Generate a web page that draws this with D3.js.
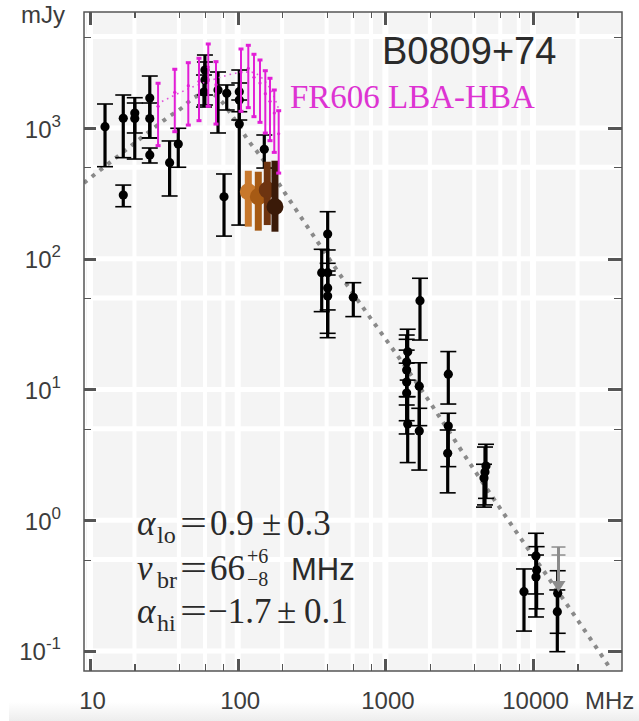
<!DOCTYPE html>
<html>
<head>
<meta charset="utf-8">
<script src="https://cdn.jsdelivr.net/npm/d3@7"></script>
<style>
  body { margin: 0; background: #fff; }
  svg { display: block; }
  .tick line { shape-rendering: crispEdges; }
</style>
</head>
<body>
<div id="chart"></div>
<script>
// visible axis ranges (MHz, mJy)
var freqDomain = [9.108, 40000];
var fluxDomain = [0.0703, 7713];

var xMajorTicks = [10, 100, 1000, 10000];
var xMinorTicks = [20, 40, 60, 80, 200, 400, 600, 800, 2000, 4000, 6000, 8000, 20000];
var yMajorTicks = [0.1, 1, 10, 100, 1000];
var yMinorTicks = [0.5, 5, 50, 500, 5000];
var xTickLabels = ["10", "100", "1000", "10000"];
var yTickExponents = ["-1", "0", "1", "2", "3"];

// literature flux densities: frequency, flux, lower / upper end of the error bar
var litFreq = [12.64, 16.8, 16.8, 20.1, 20.1, 25.4, 25.4, 25.4, 34.6, 39.6,
               60.0, 60.0, 59.1, 73.6, 80.8, 84.3, 102.5, 102.5, 102.5, 151.4,
               370.5, 406.7, 406.7, 406.7, 406.7, 606.4, 1416, 1394, 1394, 1394,
               1394, 1416, 1696, 1696, 1715, 2667, 2667, 2642, 4652, 4725,
               4799, 8678, 10460, 10460, 10570, 14590, 14680];
var litFlux = [1023, 1186, 307, 1302, 1182, 1696, 1182, 622, 543, 754,
               2777, 2328, 1885, 1953, 298, 1842, 1895, 1637, 1073, 687,
               78.2, 154.6, 78.2, 59.8, 51.9, 50.7, 19.4, 16.2, 14.1, 11.4,
               9.40, 5.45, 10.6, 4.82, 47.8, 13.1, 5.26, 3.25, 2.10, 2.34,
               2.60, 0.284, 0.533, 0.368, 0.416, 0.200, 0.276];
var litLo = [506, 593, 250, 579, 916, 839, 839, 540, 302, 501,
             1788, 1499, 1447, 916, 149, 1373, 1332, 1151, 181, 494,
             39.4, 80.6, 40.6, 26.9, 24.9, 36.1, 11.8, 8.81, 7.61, 5.77,
             4.57, 2.76, 5.29, 2.42, 23.9, 7.74, 2.57, 1.62, 1.26, 1.31,
             1.47, 0.142, 0.273, 0.182, 0.210, 0.0988, 0.1366];
var litHi = [1526, 1788, 366, 1705, 1553, 2498, 1553, 703, 796, 995,
             3616, 3198, 2543, 2681, 445, 2133, 2777, 2209, 1637, 884,
             118.1, 229, 116.7, 92.3, 75.1, 65.6, 28.9, 26.1, 24.2, 20.0,
             15.9, 8.81, 16.0, 7.18, 70.9, 19.5, 6.58, 4.90, 2.68, 3.63,
             3.81, 0.424, 0.795, 0.542, 0.628, 0.293, 0.411];

// upper limit near 15 GHz (grey)
var limitFreq = [14860];
var limitTop = [0.624];
var limitCap = [0.542];
var limitValue = [0.283];

// FR606 LBA-HBA measurements (magenta) and the curve through them
var lbaFreq = [28.9, 37.5, 46.3, 54.7, 63.2, 71.3, 105.3, 118, 128.9, 141.6, 153.8, 165.5, 176.9, 189.5];
var lbaFlux = [1466, 1875, 2106, 2276, 2928, 2144, 2681, 2861, 2442, 2209, 1829, 1600, 1302, 904];
var lbaErr = [733, 938, 1053, 1138, 1464, 1072, 1340, 1430, 1221, 1104, 914, 800, 651, 452];
var lbaCurveFreq = [28.4, 37.6, 51.4, 70.2, 98.9, 121, 146, 170.7, 190.4];
var lbaCurveFlux = [1526, 1788, 2095, 2370, 2634, 2681, 2412, 1885, 1373];

// LOFAR points (orange shades)
var lofarFreq = [118, 137.9, 158.6, 178.8];
var lofarFlux = [326, 298, 336, 250];
var lofarLo = [176, 164, 181, 161];
var lofarHi = [471, 463, 552, 562];
var lofarColors = ["#c8782c", "#a65a14", "#6e3410", "#3a1a08"];

// broken power-law fit (grey dotted)
var fitFreq = [9.1, 15.2, 25.5, 33.2, 42.6, 49.0, 55.6, 65.9, 78.3, 92.9, 117.4, 146, 209,
               516, 1913, 3917, 7542, 13020, 28380, 33160];
var fitFlux = [380, 600, 949, 1193, 1447, 1667, 1788, 1820, 1581, 1214, 809, 590, 318,
               70, 8.61, 2.51, 0.842, 0.349, 0.0965, 0.0741];

var margin = {top: 12, right: 17, bottom: 50, left: 84};
var width = 639 - margin.left - margin.right,
    height = 721 - margin.top - margin.bottom;

var sans = "'Liberation Sans', Arial, sans-serif";
var serif = "'Liberation Serif', 'Times New Roman', serif";

var svg = d3.select("#chart").append("svg")
    .attr("width", 639)
    .attr("height", 721);

var defs = svg.append("defs");
var shade = defs.append("linearGradient").attr("id", "shade")
    .attr("x1", 0).attr("y1", 0).attr("x2", 0).attr("y2", 1);
shade.append("stop").attr("offset", "0%").attr("stop-color", "#fff");
shade.append("stop").attr("offset", "100%").attr("stop-color", "#ededed");
defs.append("clipPath").attr("id", "plot-clip")
    .append("rect").attr("width", width).attr("height", height);

// faint shadow under the x labels
svg.append("rect")
    .attr("x", 9).attr("y", 702).attr("width", 630).attr("height", 19)
    .attr("fill", "url(#shade)");

var g = svg.append("g")
    .attr("transform", "translate(" + margin.left + "," + margin.top + ")");

var x = d3.scaleLog().domain(freqDomain).range([0, width]);
var y = d3.scaleLog().domain(fluxDomain).range([height, 0]);

// panel with white grid
g.append("rect")
    .attr("x", 2).attr("width", width - 2).attr("height", height)
    .attr("fill", "#f4f4f4");

g.selectAll(".vgrid")
    .data(xMajorTicks.concat(xMinorTicks))
    .enter().append("line")
    .attr("class", "vgrid")
    .attr("x1", x).attr("x2", x)
    .attr("y1", 0).attr("y2", height)
    .attr("stroke", "#fff")
    .attr("stroke-width", function(d) { return xMajorTicks.indexOf(d) >= 0 ? 6 : 4; });

g.selectAll(".hgrid")
    .data(yMajorTicks.concat(yMinorTicks))
    .enter().append("line")
    .attr("class", "hgrid")
    .attr("y1", y).attr("y2", y)
    .attr("x1", 2).attr("x2", width)
    .attr("stroke", "#fff")
    .attr("stroke-width", 5);

var plot = g.append("g").attr("clip-path", "url(#plot-clip)");

// fit curve
var line = d3.line()
    .x(function(d) { return x(d[0]); })
    .y(function(d) { return y(d[1]); })
    .curve(d3.curveMonotoneX);

plot.append("path")
    .datum(d3.zip(fitFreq, fitFlux))
    .attr("d", line)
    .attr("fill", "none")
    .attr("stroke", "#8a8a8a")
    .attr("stroke-width", 4)
    .attr("stroke-dasharray", "4,6");

// literature points
var lit = d3.range(litFreq.length).map(function(i) {
    return {f: litFreq[i], s: litFlux[i], lo: litLo[i], hi: litHi[i]};
});

var pts = plot.selectAll(".lit")
    .data(lit)
    .enter().append("g")
    .attr("class", "lit");

pts.append("line")
    .attr("x1", function(d) { return x(d.f); })
    .attr("x2", function(d) { return x(d.f); })
    .attr("y1", function(d) { return y(d.lo); })
    .attr("y2", function(d) { return y(d.hi); })
    .attr("stroke", "#000")
    .attr("stroke-width", 3.2);

["lo", "hi"].forEach(function(k) {
    pts.append("line")
        .attr("x1", function(d) { return x(d.f) - 8; })
        .attr("x2", function(d) { return x(d.f) + 8; })
        .attr("y1", function(d) { return y(d[k]); })
        .attr("y2", function(d) { return y(d[k]); })
        .attr("stroke", "#000")
        .attr("stroke-width", 1.6);
});

pts.append("circle")
    .attr("cx", function(d) { return x(d.f); })
    .attr("cy", function(d) { return y(d.s); })
    .attr("r", 4.6)
    .attr("fill", "#000");

// grey upper limit
var lim = plot.selectAll(".limit")
    .data(d3.range(limitFreq.length))
    .enter().append("g")
    .attr("class", "limit")
    .attr("fill", "#8c8c8c")
    .attr("stroke", "#8c8c8c");

lim.append("line")
    .attr("x1", function(i) { return x(limitFreq[i]); })
    .attr("x2", function(i) { return x(limitFreq[i]); })
    .attr("y1", function(i) { return y(limitTop[i]); })
    .attr("y2", function(i) { return y(limitValue[i]) - 8; })
    .attr("stroke-width", 3);

[limitTop, limitCap].forEach(function(arr) {
    lim.append("line")
        .attr("x1", function(i) { return x(limitFreq[i]) - 7; })
        .attr("x2", function(i) { return x(limitFreq[i]) + 7; })
        .attr("y1", function(i) { return y(arr[i]); })
        .attr("y2", function(i) { return y(arr[i]); })
        .attr("stroke-width", 1.5);
});

lim.append("path")
    .attr("stroke", "none")
    .attr("d", function(i) {
        var cx = x(limitFreq[i]), cy = y(limitValue[i]);
        return "M" + (cx - 7) + "," + (cy - 11) + "L" + (cx + 7) + "," + (cy - 11) + "L" + cx + "," + cy + "Z";
    });

// LOFAR points
var lofar = plot.selectAll(".lofar")
    .data(d3.range(lofarFreq.length))
    .enter().append("g")
    .attr("class", "lofar")
    .style("fill", function(i) { return lofarColors[i]; })
    .style("stroke", function(i) { return lofarColors[i]; });

lofar.append("line")
    .attr("x1", function(i) { return x(lofarFreq[i]); })
    .attr("x2", function(i) { return x(lofarFreq[i]); })
    .attr("y1", function(i) { return y(lofarLo[i]); })
    .attr("y2", function(i) { return y(lofarHi[i]); })
    .attr("stroke-width", 7);

lofar.append("circle")
    .attr("cx", function(i) { return x(lofarFreq[i]); })
    .attr("cy", function(i) { return y(lofarFlux[i]); })
    .attr("r", 8.5)
    .style("stroke", "none");

// FR606 LBA-HBA
var magenta = "#e21ed6";

plot.append("path")
    .datum(d3.zip(lbaCurveFreq, lbaCurveFlux))
    .attr("d", line)
    .attr("fill", "none")
    .attr("stroke", "#e055da")
    .attr("stroke-width", 1.6)
    .attr("stroke-dasharray", "1.6,4");

var lba = plot.selectAll(".lba")
    .data(d3.range(lbaFreq.length))
    .enter().append("g")
    .attr("class", "lba")
    .attr("stroke", magenta)
    .attr("fill", magenta);

lba.append("line")
    .attr("x1", function(i) { return x(lbaFreq[i]); })
    .attr("x2", function(i) { return x(lbaFreq[i]); })
    .attr("y1", function(i) { return y(lbaFlux[i] - lbaErr[i]); })
    .attr("y2", function(i) { return y(lbaFlux[i] + lbaErr[i]); })
    .attr("stroke-width", 2);

[-1, 1].forEach(function(sgn) {
    lba.append("line")
        .attr("x1", function(i) { return x(lbaFreq[i]) - 2.5; })
        .attr("x2", function(i) { return x(lbaFreq[i]) + 2.5; })
        .attr("y1", function(i) { return y(lbaFlux[i] + sgn * lbaErr[i]); })
        .attr("y2", function(i) { return y(lbaFlux[i] + sgn * lbaErr[i]); })
        .attr("stroke-width", 3);
});

lba.append("circle")
    .attr("cx", function(i) { return x(lbaFreq[i]); })
    .attr("cy", function(i) { return y(lbaFlux[i]); })
    .attr("r", 1.6)
    .attr("stroke", "none");

// ticks, all pointing inward
function tickGroup(axis, tx, ty, w) {
    var a = g.append("g")
        .attr("transform", "translate(" + tx + "," + ty + ")")
        .call(axis);
    a.select(".domain").remove();
    a.selectAll(".tick line").attr("stroke", "#555").attr("stroke-width", w);
    return a;
}

tickGroup(d3.axisBottom(x).tickValues(xMajorTicks).tickSize(-12).tickFormat(""), 0, height, 3);
tickGroup(d3.axisBottom(x).tickValues(xMinorTicks).tickSize(-7).tickFormat(""), 0, height, 1.1);
tickGroup(d3.axisTop(x).tickValues(xMajorTicks).tickSize(-13).tickFormat(""), 0, 0, 3);
tickGroup(d3.axisTop(x).tickValues(xMinorTicks).tickSize(-6).tickFormat(""), 0, 0, 1.1);
tickGroup(d3.axisLeft(y).tickValues(yMajorTicks).tickSize(-12).tickFormat(""), 0, 0, 3);
tickGroup(d3.axisLeft(y).tickValues(yMinorTicks).tickSize(-7).tickFormat(""), 0, 0, 1.1);
tickGroup(d3.axisRight(y).tickValues(yMajorTicks).tickSize(-14).tickFormat(""), width, 0, 3);
tickGroup(d3.axisRight(y).tickValues(yMinorTicks).tickSize(-8).tickFormat(""), width, 0, 1.1);

// frame
g.append("rect")
    .attr("width", width).attr("height", height)
    .attr("fill", "none")
    .attr("stroke", "#555")
    .attr("stroke-width", 1.5);

// x labels
var xl = g.append("g")
    .attr("transform", "translate(2," + height + ")")
    .call(d3.axisBottom(x).tickValues(xMajorTicks).tickSize(0).tickPadding(21)
        .tickFormat(function(d, i) { return xTickLabels[i]; }));
xl.select(".domain").remove();
xl.selectAll("text")
    .attr("font-family", sans)
    .attr("font-size", 24)
    .attr("fill", "#3c3c3c");

// y labels with exponents
var yl = g.append("g")
    .call(d3.axisLeft(y).tickValues(yMajorTicks).tickSize(0).tickPadding(23).tickFormat(""));
yl.select(".domain").remove();
yl.selectAll("text")
    .attr("dy", 9)
    .attr("font-family", sans)
    .attr("font-size", 24)
    .attr("fill", "#3c3c3c")
    .each(function(d, i) {
        var t = d3.select(this);
        t.append("tspan").text("10");
        t.append("tspan").attr("font-size", 17).attr("dy", -11).text(yTickExponents[i]);
    });

svg.append("text")
    .attr("x", 21).attr("y", 23)
    .attr("font-family", sans).attr("font-size", 24).attr("fill", "#3c3c3c")
    .text("mJy");

svg.append("text")
    .attr("x", 585).attr("y", 709)
    .attr("font-family", sans).attr("font-size", 24).attr("fill", "#3c3c3c")
    .text("MHz");

// source name and LBA-HBA label
svg.append("text")
    .attr("x", 382).attr("y", 64)
    .attr("font-family", sans).attr("font-size", 38).attr("fill", "#2a2a2a")
    .text("B0809+74");

svg.append("text")
    .attr("x", 290).attr("y", 108)
    .attr("font-family", serif).attr("font-size", 33).attr("fill", "#dd33d2")
    .text("FR606 LBA-HBA");

// fit parameters
var ann = svg.append("g")
    .attr("font-family", serif)
    .attr("font-size", 35)
    .attr("fill", "#2a2a2a");

function piece(txt, px, py, size, italic) {
    var t = ann.append("text").attr("x", px).attr("y", py).text(txt);
    if (size) t.attr("font-size", size);
    if (italic) t.attr("font-style", "italic");
    return t;
}

piece("\u03b1", 137, 535, null, true);
piece("lo", 157, 543, 24);
piece("=", 180, 535).attr("textLength", 27).attr("lengthAdjust", "spacingAndGlyphs");
piece("0.9", 210, 535);
piece("\u00b1", 262, 535);
piece("0.3", 287, 535);

piece("\u03bd", 137, 580, null, true);
piece("br", 157, 588, 24);
piece("=", 180, 580).attr("textLength", 27).attr("lengthAdjust", "spacingAndGlyphs");
piece("66", 210, 580);
piece("+6", 247, 563, 20);
piece("\u22128", 247, 586, 20);
piece("MHz", 291, 580, 31).attr("font-family", sans);

piece("\u03b1", 137, 623, null, true);
piece("hi", 157, 631, 24);
piece("=", 180, 623).attr("textLength", 27).attr("lengthAdjust", "spacingAndGlyphs");
piece("\u22121.7", 208, 623);
piece("\u00b1", 277, 623);
piece("0.1", 304, 623);
</script>
</body>
</html>
